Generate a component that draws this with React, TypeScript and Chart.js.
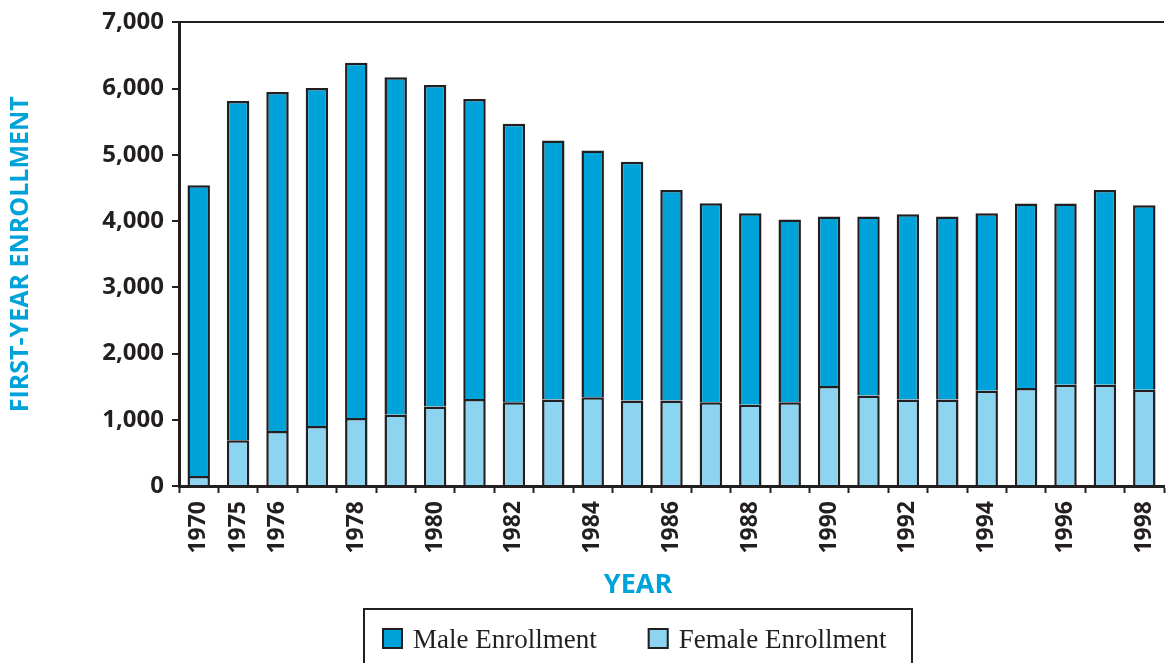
import React, { useEffect, useRef } from "react";
import { Chart, registerables } from "chart.js";

Chart.register(...registerables);

const years = [
  "1970", "1975", "1976", "1977", "1978", "1979", "1980", "1981", "1982", "1983",
  "1984", "1985", "1986", "1987", "1988", "1989", "1990", "1991", "1992", "1993",
  "1994", "1995", "1996", "1997", "1998",
];
const xTickLabels = [
  "1970", "1975", "1976", "", "1978", "", "1980", "", "1982", "",
  "1984", "", "1986", "", "1988", "", "1990", "", "1992", "",
  "1994", "", "1996", "", "1998",
];
const femaleEnrollment = [
  150, 690, 830, 905, 1025, 1075, 1200, 1315, 1265, 1305,
  1340, 1290, 1290, 1265, 1225, 1265, 1510, 1365, 1305, 1305,
  1440, 1480, 1530, 1530, 1455,
];
const maleEnrollment = [
  4390, 5125, 5120, 5105, 5365, 5095, 4855, 4530, 4205, 3910,
  3725, 3605, 3180, 3005, 2895, 2760, 2560, 2705, 2800, 2765,
  2680, 2785, 2735, 2940, 2785,
];
const yTicks = [0, 1000, 2000, 3000, 4000, 5000, 6000, 7000];

const DARK = "#231f20";
const MALE = "#00a3d9";
const FEMALE = "#8dd4f0";
const TITLE_BLUE = "#00a3d9";

const W = 1180;
const H = 680;

const extrasPlugin = {
  id: "extras",
  afterDraw(chart: any) {
    const ctx = chart.ctx;
    ctx.save();
    // X-axis title
    ctx.fillStyle = TITLE_BLUE;
    ctx.font = "bold 27px 'Open Sans'";
    ctx.textAlign = "center";
    ctx.textBaseline = "middle";
    ctx.fillText("YEAR", 638, 585);

    // Legend frame
    ctx.strokeStyle = DARK;
    ctx.lineWidth = 2;
    ctx.strokeRect(364, 609, 548, 90);

    // Legend items (male first)
    const items = [chart.data.datasets[1], chart.data.datasets[0]];
    ctx.font = "27px 'Liberation Serif'";
    ctx.textAlign = "left";
    ctx.textBaseline = "alphabetic";
    let x = 382;
    items.forEach((ds: any) => {
      ctx.fillStyle = ds.backgroundColor;
      ctx.fillRect(x, 628, 21, 21);
      ctx.strokeStyle = DARK;
      ctx.lineWidth = 2;
      ctx.strokeRect(x + 1, 629, 19, 19);
      ctx.fillStyle = DARK;
      ctx.fillText(ds.label, x + 31, 648);
      x = x + 31 + ctx.measureText(ds.label).width + 51;
    });
    ctx.restore();
  },
};

export default function App() {
  const ref = useRef<HTMLCanvasElement | null>(null);

  useEffect(() => {
    if (!ref.current) return;
    const chart = new Chart(ref.current, {
      type: "bar",
      data: {
        labels: years,
        datasets: [
          {
            label: "Female Enrollment",
            data: femaleEnrollment,
            backgroundColor: FEMALE,
            borderColor: DARK,
            borderWidth: 2.5,
            barPercentage: 0.57,
            categoryPercentage: 1,
          },
          {
            label: "Male Enrollment",
            data: maleEnrollment,
            backgroundColor: MALE,
            borderColor: DARK,
            borderWidth: 2.5,
            barPercentage: 0.57,
            categoryPercentage: 1,
          },
        ],
      },
      options: {
        animation: false,
        responsive: false,
        maintainAspectRatio: false,
        devicePixelRatio: 1,
        layout: { padding: { top: 20, right: 5, left: 0, bottom: 0 } },
        plugins: {
          legend: { display: false },
          tooltip: { enabled: false },
        },
        scales: {
          x: {
            stacked: true,
            offset: true,
            grid: {
              offset: true,
              drawOnChartArea: false,
              drawTicks: true,
              tickLength: 7,
              tickWidth: 2,
              tickColor: DARK,
              color: DARK,
            },
            border: { display: true, color: DARK, width: 3 },
            ticks: {
              autoSkip: false,
              maxRotation: 90,
              minRotation: 90,
              padding: 8,
              color: DARK,
              font: { family: "'Open Sans'", size: 23, weight: "bold" },
              callback: (_v: any, i: number) => xTickLabels[i],
            },
            afterFit: (scale: any) => {
              scale.height = H - 486;
            },
          },
          y: {
            stacked: true,
            min: 0,
            max: 7000,
            afterBuildTicks: (scale: any) => {
              scale.ticks = yTicks.map((v) => ({ value: v }));
            },
            grid: {
              drawOnChartArea: true,
              drawTicks: true,
              tickLength: 7,
              tickWidth: 2,
              tickColor: DARK,
              lineWidth: 2,
              color: (c: any) =>
                c.tick && c.tick.value === 7000 ? DARK : "rgba(0,0,0,0)",
            },
            border: { display: true, color: DARK, width: 3 },
            ticks: {
              padding: 8,
              color: DARK,
              font: { family: "'Open Sans'", size: 24, weight: "bold" },
              callback: (v: any) => Number(v).toLocaleString("en-US"),
            },
            title: {
              display: true,
              text: "FIRST-YEAR ENROLLMENT",
              color: TITLE_BLUE,
              font: { family: "'Open Sans'", size: 25, weight: "bold" },
              padding: { top: 6, bottom: 0 },
            },
            afterFit: (scale: any) => {
              scale.width = 179;
            },
          },
        },
      },
      plugins: [extrasPlugin],
    });
    return () => chart.destroy();
  }, []);

  return (
    <div
      style={{
        position: "fixed",
        left: 0,
        top: 0,
        width: 1173,
        height: 663,
        overflow: "hidden",
        background: "#fff",
      }}
    >
      <canvas ref={ref} width={W} height={H} style={{ width: W, height: H, display: "block" }} />
    </div>
  );
}
